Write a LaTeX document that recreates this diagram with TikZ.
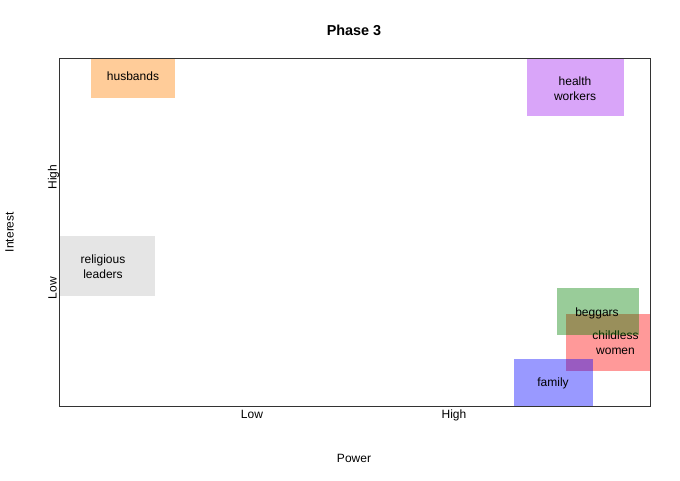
\documentclass[tikz,border=0pt]{standalone}
\usepackage{fontspec}
\setmainfont{Liberation Sans}
\begin{document}
\begin{tikzpicture}[x=1pt,y=-1pt,
  box/.style={inner sep=0pt, outer sep=0pt, anchor=north west, draw=none, fill opacity=0.4},
  lbl/.style={font=\fontsize{12}{15}\selectfont, align=center, inner sep=0pt, text=black},
  one/.style={text height=8.8pt, text depth=2.6pt},
  tick/.style={font=\fontsize{12}{14}\selectfont, inner sep=0pt, text height=8.8pt, text depth=2.6pt}]
\useasboundingbox (0,0) rectangle (680,480);
\fill[white] (0,0) rectangle (680,480);
% title and axes titles
\node[font=\bfseries\fontsize{14.4}{16}\selectfont, inner sep=0pt] (title) at (354,30) {Phase 3};
\node[tick] (xtitle) at (354,459) {Power};
\node[tick, rotate=90] (ytitle) at (10.5,232) {Interest};
\node[tick] (xlow) at (252,415) {Low};
\node[tick] (xhigh) at (454,415) {High};
\node[tick, rotate=90] (yhigh) at (53.5,177) {High};
\node[tick, rotate=90] (ylow) at (53.5,288) {Low};
% boxes
\node[box, fill=orange, minimum width=84pt, minimum height=40pt] (hbbox) at (91,58) {};
\node[lbl, one] (hb) at (133,77) {husbands};
\node[box, fill={rgb,255:red,160;green,32;blue,240}, minimum width=97pt, minimum height=58pt] (hwbox) at (527,58) {};
\node[lbl] (hw) at (575,88.5) {health\\workers};
\node[box, fill={rgb,255:red,190;green,190;blue,190}, minimum width=96pt, minimum height=60pt] (rlbox) at (59,236) {};
\node[lbl] (rl) at (103,266.5) {religious\\leaders};
\node[box, fill=red, minimum width=84pt, minimum height=57pt] (cwbox) at (566,314) {};
\node[lbl] (cw) at (615.5,343) {childless\\women};
\node[box, fill={rgb,255:red,0;green,128;blue,0}, minimum width=82pt, minimum height=47pt] (bgbox) at (557,288) {};
\node[lbl, one] (bg) at (597,313) {beggars};
\node[box, fill=blue, minimum width=79pt, minimum height=47pt] (fmbox) at (514,359) {};
\node[lbl, one] (fm) at (553,383) {family};
% plot frame
\draw[line width=0.75pt, black!80] (59,58) rectangle (650,406);
\end{tikzpicture}
\end{document}
